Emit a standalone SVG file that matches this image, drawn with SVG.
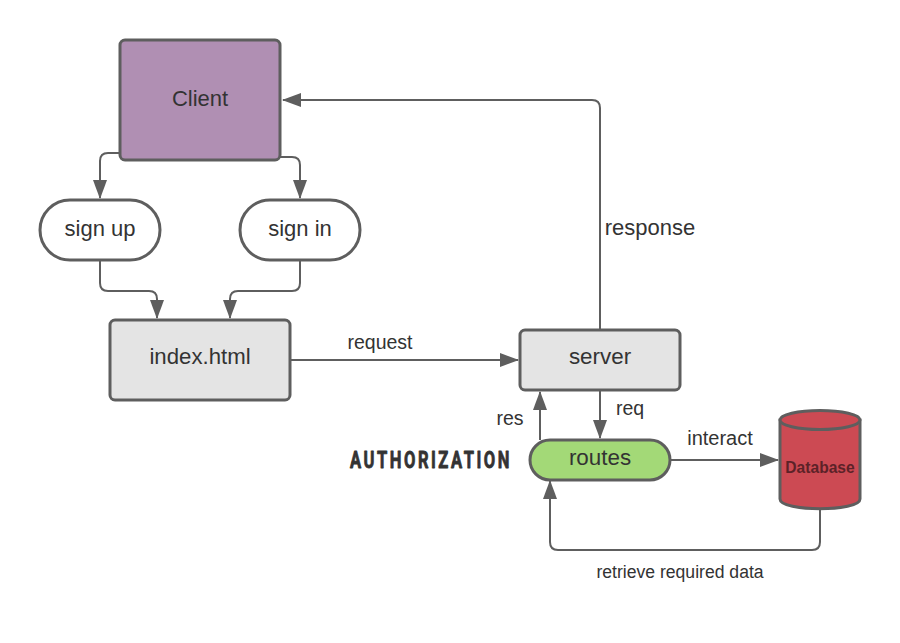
<svg xmlns="http://www.w3.org/2000/svg" width="900" height="643" viewBox="0 0 900 643">
<style>
text{font-family:"Liberation Sans",Arial,sans-serif;fill:#333;text-anchor:middle}
.n{stroke:#5e5e5e;stroke-width:3}
.c{fill:none;stroke:#5e5e5e;stroke-width:2;marker-end:url(#a)}
</style>
<defs><marker id="a" markerUnits="userSpaceOnUse" markerWidth="20" markerHeight="14" refX="18" refY="7" orient="auto"><path d="M0 0L19 7L0 14Z" fill="#5e5e5e"/></marker></defs>
<rect width="900" height="643" fill="#fff"/>
<g id="connectors">
<path class="c" d="M120 153H108Q100 153 100 161V198"/>
<path class="c" d="M280 157H292Q300 157 300 165V198"/>
<path class="c" d="M100 261V283Q100 291 108 291H149Q157 291 157 299V318"/>
<path class="c" d="M300 261V283Q300 291 292 291H238Q230 291 230 299V318"/>
<path class="c" d="M290 360H518"/>
<path class="c" d="M600 330V108Q600 100 592 100H283"/>
<path class="c" d="M540 440V392"/>
<path class="c" d="M600 390V438"/>
<path class="c" d="M670 460H778"/>
<path class="c" d="M820 508V542Q820 550 812 550H558Q550 550 550 542V481"/>
</g>
<g id="client"><rect class="n" x="120" y="40" width="160" height="120" rx="5" fill="#b08fb3"/><text x="200" y="106" font-size="22">Client</text></g>
<g id="signup"><rect class="n" x="40" y="200" width="120" height="60" rx="30" fill="#fff"/><text x="100" y="236" font-size="22">sign up</text></g>
<g id="signin"><rect class="n" x="240" y="200" width="120" height="60" rx="30" fill="#fff"/><text x="300" y="236" font-size="22">sign in</text></g>
<g id="index"><rect class="n" x="110" y="320" width="180" height="80" rx="5" fill="#e4e4e4"/><text x="200" y="364" font-size="22.200">index.html</text></g>
<g id="server"><rect class="n" x="520" y="330" width="160" height="60" rx="5" fill="#e4e4e4"/><text x="600" y="364" font-size="22.400">server</text></g>
<g id="routes"><rect class="n" x="530" y="440" width="140" height="40" rx="20" fill="#a3d977"/><text x="600" y="465" font-size="22.400">routes</text></g>
<g id="database"><path class="n" d="M780 420V499C780 512 860 512 860 499V420Z" fill="#cc4a53"/><ellipse class="n" cx="820" cy="420" rx="40" ry="9.500" fill="#cc4a53"/><text x="820" y="473" font-size="15.600" font-weight="bold" style="fill:#5c2228">Database</text></g>
<g id="labels">
<text x="650" y="235" font-size="22">response</text>
<text x="380" y="348.500" font-size="19.500">request</text>
<text x="510" y="425" font-size="19.500">res</text>
<text x="630" y="415" font-size="19.500">req</text>
<text x="720" y="444.500" font-size="20">interact</text>
<text x="680" y="577.500" font-size="17.600">retrieve required data</text>
<text transform="translate(431 468) scale(.72 1)" font-size="23" font-weight="bold" letter-spacing="3.500" style="font-family:Roboto,sans-serif;fill:#333;stroke:#333;stroke-width:.8;stroke-linejoin:round">AUTHORIZATION</text>
</g>
</svg>
